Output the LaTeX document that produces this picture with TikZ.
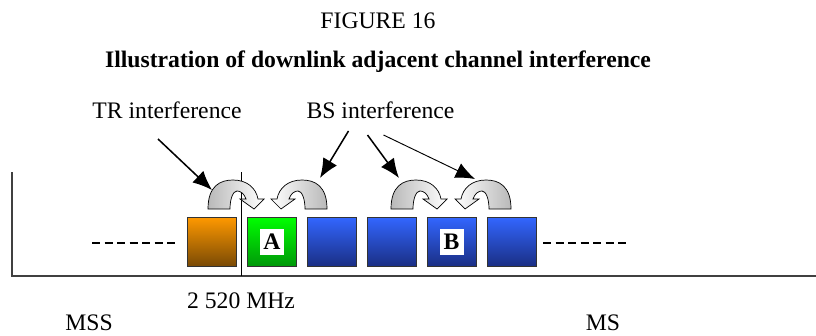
\documentclass[tikz,border=0pt]{standalone}
\usepackage{fontspec}
\setmainfont{Liberation Serif}
\usepackage{xcolor}
\usetikzlibrary{arrows.meta,calc,positioning}
\definecolor{orangetop}{HTML}{FF9900}
\definecolor{orangebot}{HTML}{7A4A05}
\definecolor{greentop}{HTML}{00FF00}
\definecolor{greenbot}{HTML}{00990A}
\definecolor{bluetop}{HTML}{3366FF}
\definecolor{bluebot}{HTML}{1A2F85}
\tikzset{
  pics/curvarrow/.style={code={
    \draw[line width=0.6pt,#1] (0,0) .. controls (0,-23) and (12,-29) .. (25,-29)
      .. controls (39,-29) and (48,-21) .. (50,-10) -- (56,-10) -- (46,0) -- (32,-10) -- (38,-10)
      .. controls (36,-16) and (32,-18) .. (29,-18) .. controls (25,-18) and (22,-10) .. (22,0) -- cycle;
  }}
}
\begin{document}
\begin{tikzpicture}[x=0.03cm,y=-0.03cm,
	every node/.style={font=\fontsize{20.2}{24}\selectfont},
	chan/.style={draw=black!80,line width=0.8pt,minimum size=1.47cm,inner sep=0},
	tag/.style={fill=white,inner sep=0,minimum width=0.72cm,minimum height=0.78cm,font=\fontsize{20.2}{24}\selectfont\bfseries},
	pointer/.style={-{Latex[length=5.8mm,width=4.8mm]},line width=1.3pt},
	dashline/.style={line width=1.5pt,dash pattern=on 2.4mm off 1.35mm}]
	\useasboundingbox (0,0) rectangle (816,335);
	\node[anchor=base] (fig) at (378,28) {FIGURE 16};
	\node[anchor=base,font=\fontsize{20.2}{24}\selectfont\bfseries] (title) at (378,67) {Illustration of downlink adjacent channel interference};
	\draw[black!75,line width=1.2pt] (12,172) -- (12,276) -- (816,276);
	\draw[line width=0.8pt] (241.5,172) -- (241.5,276);
	\draw[dashline] (92,243) -- (177,243);
	\draw[dashline] (543,243) -- (628,243);
	\node[chan,top color=orangetop,bottom color=orangebot] (ch1) at (211.5,241.5) {};
	\node[chan,top color=greentop,bottom color=greenbot] (ch2) at (272,241.5) {};
	\node[chan,top color=bluetop,bottom color=bluebot] (ch3) at (332,241.5) {};
	\node[chan,top color=bluetop,bottom color=bluebot] (ch4) at (391.5,241.5) {};
	\node[chan,top color=bluetop,bottom color=bluebot] (ch5) at (451.5,241.5) {};
	\node[chan,top color=bluetop,bottom color=bluebot] (ch6) at (511.5,241.5) {};
	\node[tag] (A) at (ch2) {A};
	\node[tag] (B) at (ch5) {B};
	\pic at (208,209) {curvarrow={left color=gray!55,right color=white}};
	\pic[xscale=-1] at (327,209) {curvarrow={left color=white,right color=gray!55}};
	\pic at (391,209) {curvarrow={left color=gray!55,right color=white}};
	\pic[xscale=-1] at (511,209) {curvarrow={left color=white,right color=gray!55}};
	\node[anchor=base] (tr) at (167,118) {TR interference};
	\node[anchor=base] (bs) at (380.5,118) {BS interference};
	\coordinate (tip1) at (212,190);
	\coordinate (tip2) at (320,178);
	\coordinate (tip3) at (399,178);
	\coordinate (tip4) at (475,179);
	\draw[pointer] ([shift={(-9,21)}]tr.base) -- (tip1);
	\draw[pointer] ([shift={(-32,13)}]bs.base) -- (tip2);
	\draw[pointer] ([shift={(-13,17)}]bs.base) -- (tip3);
	\draw[pointer,line width=0.8pt] ([shift={(3,17)}]bs.base) -- (tip4);
	\node[anchor=base] (freq) at (241,308) {2 520 MHz};
	\node[anchor=base] (mss) at (89,330) {MSS};
	\node[anchor=base] (ms) at (603,330) {MS};
\end{tikzpicture}
\end{document}
